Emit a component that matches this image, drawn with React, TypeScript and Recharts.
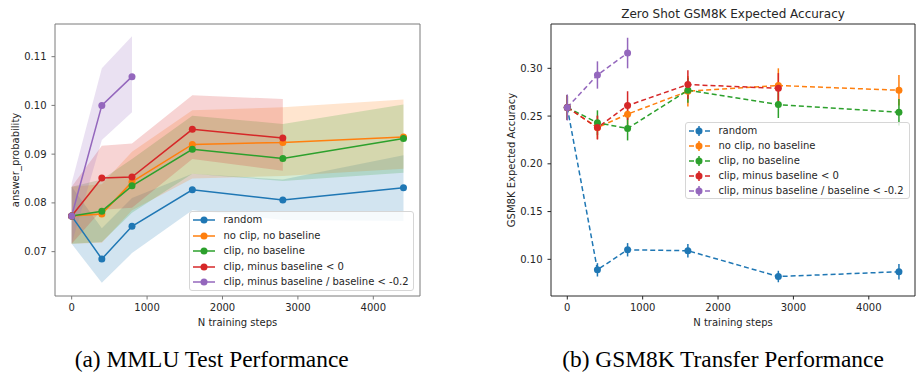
import React from "react";
import {
  Area,
  ComposedChart,
  ErrorBar,
  Line,
  ReferenceLine,
  XAxis,
  YAxis,
} from "recharts";

const steps = [0, 400, 800, 1600, 2800, 4400];
const xTicks = [0, 1000, 2000, 3000, 4000];
const seriesNames = [
  "random",
  "no clip, no baseline",
  "clip, no baseline",
  "clip, minus baseline < 0",
  "clip, minus baseline / baseline < -0.2",
];
const colors = ["#1f77b4", "#ff7f0e", "#2ca02c", "#d62728", "#9467bd"];

// (a) MMLU answer_probability: mean, lower and upper edge of the band
const mmluRandom = [0.0773, 0.0685, 0.0752, 0.0827, 0.0806, 0.0831];
const mmluRandomLo = [0.0716, 0.0636, 0.0697, 0.0785, 0.0765, 0.0763];
const mmluRandomHi = [0.0833, 0.0748, 0.081, 0.086, 0.0848, 0.0898];
const mmluNoClip = [0.0773, 0.0777, 0.0843, 0.092, 0.0924, 0.0935];
const mmluNoClipLo = [0.0716, 0.0718, 0.0785, 0.085, 0.0855, 0.087];
const mmluNoClipHi = [0.0833, 0.0838, 0.0905, 0.099, 0.0996, 0.1012];
const mmluClip = [0.0773, 0.0783, 0.0835, 0.091, 0.0891, 0.0932];
const mmluClipLo = [0.0716, 0.072, 0.078, 0.086, 0.0845, 0.0862];
const mmluClipHi = [0.0833, 0.0848, 0.089, 0.0979, 0.0962, 0.1002];
const mmluMinus = [0.0773, 0.0851, 0.0853, 0.0951, 0.0933, null];
const mmluMinusLo = [0.0716, 0.0786, 0.079, 0.089, 0.0866, null];
const mmluMinusHi = [0.0833, 0.0917, 0.0922, 0.1021, 0.1013, null];
const mmluRatio = [0.0773, 0.1, 0.1059, null, null, null];
const mmluRatioLo = [0.0716, 0.0929, 0.0986, null, null, null];
const mmluRatioHi = [0.0841, 0.1076, 0.1142, null, null, null];
const mmluYTicks = [0.07, 0.08, 0.09, 0.1, 0.11];

// (b) GSM8K expected accuracy: mean and error bar half-width
const gsmRandom = [0.259, 0.089, 0.11, 0.109, 0.082, 0.087];
const gsmRandomErr = [0.013, 0.007, 0.007, 0.007, 0.006, 0.008];
const gsmNoClip = [0.259, 0.238, 0.252, 0.276, 0.282, 0.277];
const gsmNoClipErr = [0.013, 0.012, 0.012, 0.016, 0.018, 0.016];
const gsmClip = [0.259, 0.243, 0.237, 0.277, 0.262, 0.254];
const gsmClipErr = [0.013, 0.013, 0.0125, 0.013, 0.014, 0.014];
const gsmMinus = [0.259, 0.238, 0.261, 0.283, 0.279, null];
const gsmMinusErr = [0.013, 0.0126, 0.015, 0.015, 0.016, null];
const gsmRatio = [0.259, 0.293, 0.316, null, null, null];
const gsmRatioErr = [0.0136, 0.0143, 0.016, null, null, null];
const gsmYTicks = [0.1, 0.15, 0.2, 0.25, 0.3];

const mmluMeans = [mmluRandom, mmluNoClip, mmluClip, mmluMinus, mmluRatio];
const mmluLows = [mmluRandomLo, mmluNoClipLo, mmluClipLo, mmluMinusLo, mmluRatioLo];
const mmluHighs = [mmluRandomHi, mmluNoClipHi, mmluClipHi, mmluMinusHi, mmluRatioHi];
const gsmMeans = [gsmRandom, gsmNoClip, gsmClip, gsmMinus, gsmRatio];
const gsmErrs = [gsmRandomErr, gsmNoClipErr, gsmClipErr, gsmMinusErr, gsmRatioErr];

const mmluRows = steps.map((step, i) => {
  const row: any = { step };
  mmluMeans.forEach((m, k) => {
    row["m" + k] = m[i];
    row["b" + k] =
      mmluLows[k][i] == null ? null : [mmluLows[k][i], mmluHighs[k][i]];
  });
  return row;
});

const gsmRows = steps.map((step, i) => {
  const row: any = { step };
  gsmMeans.forEach((m, k) => {
    row["m" + k] = m[i];
    row["e" + k] = gsmErrs[k][i];
  });
  return row;
});

const font = "'DejaVu Sans', sans-serif";
const textColor = "#262626";
const tickStyle = { fontSize: 10, fill: textColor, fontFamily: font };

function LegendBox({
  left,
  top,
  width,
  height,
  rowH,
  firstY,
  dashed,
}: {
  left: number;
  top: number;
  width: number;
  height: number;
  rowH: number;
  firstY: number;
  dashed: boolean;
}) {
  return (
    <div
      style={{
        position: "absolute",
        left,
        top,
        width,
        height,
        boxSizing: "border-box",
        border: "1px solid #d6d6d6",
        borderRadius: 3,
        background: "rgba(255,255,255,0.8)",
        fontFamily: font,
        fontSize: 10,
        color: textColor,
      }}
    >
      {seriesNames.map((name, k) => (
        <div
          key={name}
          style={{
            position: "absolute",
            left: 3,
            top: firstY + k * rowH - 7,
            height: 14,
            lineHeight: "14px",
            whiteSpace: "nowrap",
          }}
        >
          <svg
            width={24}
            height={14}
            style={{ position: "absolute", left: 0, top: 0 }}
          >
            <line
              x1={0}
              x2={22}
              y1={7}
              y2={7}
              stroke={colors[k]}
              strokeWidth={1.5}
              strokeDasharray={dashed ? "5 3" : undefined}
            />
            {dashed && (
              <line x1={10} x2={10} y1={2} y2={12} stroke={colors[k]} strokeWidth={1.5} />
            )}
            <circle cx={dashed ? 10 : 11} cy={7} r={3.5} fill={colors[k]} />
          </svg>
          <span style={{ position: "absolute", left: dashed ? 29.5 : 30.5, top: 0 }}>
            {name}
          </span>
        </div>
      ))}
    </div>
  );
}

function MmluChart() {
  return (
    <ComposedChart
      width={460}
      height={340}
      data={mmluRows}
      margin={{ top: 24, right: 40, left: 15, bottom: 14 }}
    >
      <XAxis
        dataKey="step"
        type="number"
        domain={[-221, 4619]}
        ticks={xTicks}
        allowDataOverflow
        height={30}
        tickSize={3.5}
        tickMargin={4}
        stroke="#7a7a7a"
        tick={tickStyle}
        label={{
          value: "N training steps",
          position: "insideBottom",
          offset: 0,
          style: { fontSize: 10, fill: textColor, fontFamily: font },
        }}
      />
      <YAxis
        type="number"
        domain={[0.0609, 0.1167]}
        ticks={mmluYTicks}
        allowDataOverflow
        width={40}
        tickSize={3.5}
        tickMargin={5}
        stroke="#7a7a7a"
        tick={tickStyle}
        tickFormatter={(v: number) => v.toFixed(2)}
        label={{
          value: "answer_probability",
          angle: -90,
          position: "insideLeft",
          offset: 0,
          style: { fontSize: 10, fill: textColor, fontFamily: font, textAnchor: "middle" },
        }}
      />
      <ReferenceLine y={0.1167} stroke="#7a7a7a" strokeWidth={1} />
      <ReferenceLine x={4619} stroke="#7a7a7a" strokeWidth={1} />
      {colors.map((c, k) => (
        <Area
          key={"b" + k}
          dataKey={"b" + k}
          type="linear"
          stroke="none"
          fill={c}
          fillOpacity={0.2}
          activeDot={false}
          isAnimationActive={false}
        />
      ))}
      {colors.map((c, k) => (
        <Line
          key={"m" + k}
          dataKey={"m" + k}
          type="linear"
          stroke={c}
          strokeWidth={1.5}
          dot={{ r: 3.5, fill: c, stroke: c, strokeWidth: 0 }}
          activeDot={false}
          isAnimationActive={false}
        />
      ))}
    </ComposedChart>
  );
}

function GsmChart() {
  return (
    <ComposedChart
      width={456}
      height={340}
      data={gsmRows}
      margin={{ top: 24, right: 1, left: 51, bottom: 14 }}
    >
      <XAxis
        dataKey="step"
        type="number"
        domain={[-216, 4613]}
        ticks={xTicks}
        allowDataOverflow
        height={30}
        tickSize={3.5}
        tickMargin={4}
        stroke="#262626"
        tick={tickStyle}
        label={{
          value: "N training steps",
          position: "insideBottom",
          offset: 0,
          style: { fontSize: 10, fill: textColor, fontFamily: font },
        }}
      />
      <YAxis
        type="number"
        domain={[0.0616, 0.3464]}
        ticks={gsmYTicks}
        allowDataOverflow
        width={40}
        tickSize={3.5}
        tickMargin={5}
        stroke="#262626"
        tick={tickStyle}
        tickFormatter={(v: number) => v.toFixed(2)}
        label={{
          value: "GSM8K Expected Accuracy",
          angle: -90,
          position: "insideLeft",
          offset: 0,
          style: { fontSize: 10, fill: textColor, fontFamily: font, textAnchor: "middle" },
        }}
      />
      <ReferenceLine y={0.3464} stroke="#262626" strokeWidth={1} />
      <ReferenceLine x={4613} stroke="#262626" strokeWidth={1} />
      {colors.map((c, k) => (
        <Line
          key={"m" + k}
          dataKey={"m" + k}
          type="linear"
          stroke={c}
          strokeWidth={1.5}
          strokeDasharray="5 3"
          dot={{ r: 3.5, fill: c, stroke: "none", strokeWidth: 0, strokeDasharray: "0" }}
          activeDot={false}
          isAnimationActive={false}
        >
          <ErrorBar
            dataKey={"e" + k}
            direction="y"
            width={0}
            stroke={c}
            strokeWidth={1.5}
          />
        </Line>
      ))}
    </ComposedChart>
  );
}

const captionStyle: React.CSSProperties = {
  position: "absolute",
  top: 348,
  fontFamily: "'Liberation Serif', 'Times New Roman', serif",
  fontSize: 23.4,
  lineHeight: "23px",
  color: "#000",
  whiteSpace: "nowrap",
  transform: "translateX(-50%)",
};

export default function App() {
  return (
    <div
      style={{
        position: "absolute",
        left: 0,
        top: 0,
        width: 916,
        height: 372,
        background: "#fff",
        overflow: "hidden",
      }}
    >
      <div style={{ position: "absolute", left: 0, top: 0 }}>
        <MmluChart />
      </div>
      <div style={{ position: "absolute", left: 460, top: 0 }}>
        <GsmChart />
      </div>
      <div
        style={{
          position: "absolute",
          left: 733,
          top: 7,
          transform: "translateX(-50%)",
          fontFamily: font,
          fontSize: 12,
          lineHeight: "14px",
          color: textColor,
          whiteSpace: "nowrap",
        }}
      >
        Zero Shot GSM8K Expected Accuracy
      </div>
      <LegendBox left={189} top={211} width={225} height={80} rowH={15.5} firstY={8.3} dashed={false} />
      <LegendBox left={685} top={122} width={225} height={77} rowH={15} firstY={7.5} dashed={true} />
      <div style={{ ...captionStyle, left: 211.7 }}>(a) MMLU Test Performance</div>
      <div style={{ ...captionStyle, left: 723 }}>(b) GSM8K Transfer Performance</div>
    </div>
  );
}
